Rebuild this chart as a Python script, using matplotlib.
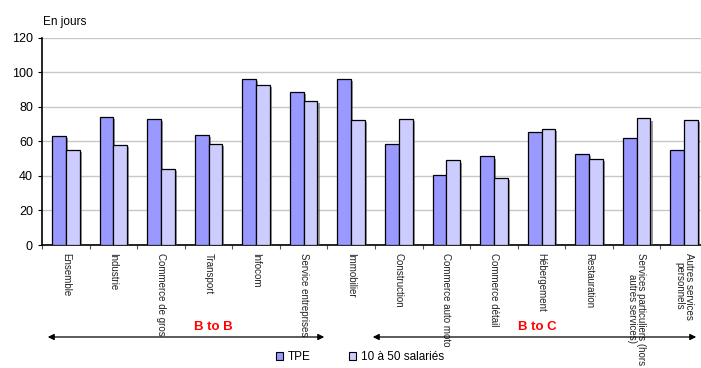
import numpy as np
import matplotlib
matplotlib.use('Agg')
import matplotlib.pyplot as plt
import matplotlib.patheffects as pe
from matplotlib.patches import Patch

plt.rcParams['font.family'] = ['Liberation Sans', 'DejaVu Sans']

# categories (labels written as on the chart)
secteurs = ['Ensemble', 'Industrie', 'Commerce de gros', 'Transport', 'Infocom',
            'Service entreprises', 'Immobilier', 'Construction', 'Commerce auto moto',
            'Commerce détail', 'Hébergement', 'Restauration',
            'Services particuliers (hors\nautres services)', 'Autres services\npersonnels']
tpe = [63.0, 74.0, 72.9, 63.4, 96.0, 88.3, 95.8, 58.6, 40.6, 51.2, 65.3, 52.4, 62.0, 54.9]
sal_10_50 = [54.7, 58.0, 43.9, 58.4, 92.8, 83.5, 72.5, 72.7, 48.9, 38.8, 66.9, 50.0, 73.2, 72.3]
y_ticks = [0, 20, 40, 60, 80, 100, 120]

W, H = 701, 368
fig = plt.figure(figsize=(W/100, H/100), dpi=100)
ax = fig.add_axes([42/W, 1-245/H, (708-42)/W, (245-37.5)/H])

x = np.arange(len(secteurs))
bw = 0.29
ombre = [pe.SimplePatchShadow(offset=(1.5, -1.5), shadow_rgbFace='#555555', alpha=0.6), pe.Normal()]
b1 = ax.bar(x - bw/2, tpe, bw, color='#9999FF', edgecolor='black', linewidth=0.9, zorder=3)
b2 = ax.bar(x + bw/2, sal_10_50, bw, color='#CCCCFF', edgecolor='black', linewidth=0.9, zorder=3)
for b in list(b1) + list(b2):
    b.set_path_effects(ombre)

ax.set_xlim(-0.5, len(secteurs) - 0.5)
ax.set_ylim(0, 120)
ax.set_yticks(y_ticks)
ax.yaxis.grid(True, color='#c8c8c8', linewidth=1, zorder=0)
ax.tick_params(axis='y', labelsize=9, length=3, width=0.8)
for s in ['right', 'top']:
    ax.spines[s].set_visible(False)
ax.spines['left'].set_linewidth(1.2)
ax.spines['bottom'].set_linewidth(1.2)

ax.set_xticks(x)
ax.set_xticklabels([])
ax.tick_params(axis='x', which='major', length=0)
ax.set_xticks(np.arange(len(secteurs) + 1) - 0.5, minor=True)
ax.tick_params(axis='x', which='minor', length=3, width=0.8, color='#555555')

for i, lab in enumerate(secteurs):
    ax.text(i, -4.5, lab, rotation=-90, ha='center', va='top', fontsize=7,
            linespacing=0.95, color='#222222')

fig.text(43/W, 1-22/H, 'En jours', fontsize=8.5, va='center', ha='left')

# fleches B to B / B to C
y_fl = 1 - 337/H
fig.add_artist(matplotlib.patches.FancyArrowPatch((45/W, y_fl), (327/W, y_fl),
               transform=fig.transFigure, arrowstyle='<|-|>', mutation_scale=9,
               color='black', linewidth=0.9))
fig.add_artist(matplotlib.patches.FancyArrowPatch((370/W, y_fl), (699/W, y_fl),
               transform=fig.transFigure, arrowstyle='<|-|>', mutation_scale=9,
               color='black', linewidth=0.9))
fig.text(213/W, 1-327/H, 'B to B', color='red', fontsize=9.5, fontweight='bold',
         ha='center', va='center')
fig.text(537/W, 1-327/H, 'B to C', color='red', fontsize=9.5, fontweight='bold',
         ha='center', va='center')

handles = [Patch(facecolor='#9999FF', edgecolor='black', linewidth=0.8),
           Patch(facecolor='#CCCCFF', edgecolor='black', linewidth=0.8)]
fig.legend(handles, ['TPE', '10 à 50 salariés'], loc='center',
           bbox_to_anchor=(360/W, 1-357/H), ncol=2, frameon=False, fontsize=8.5,
           handlelength=0.6, handleheight=0.6, handletextpad=0.35, columnspacing=3.3)

fig.savefig('out.png', dpi=100)
